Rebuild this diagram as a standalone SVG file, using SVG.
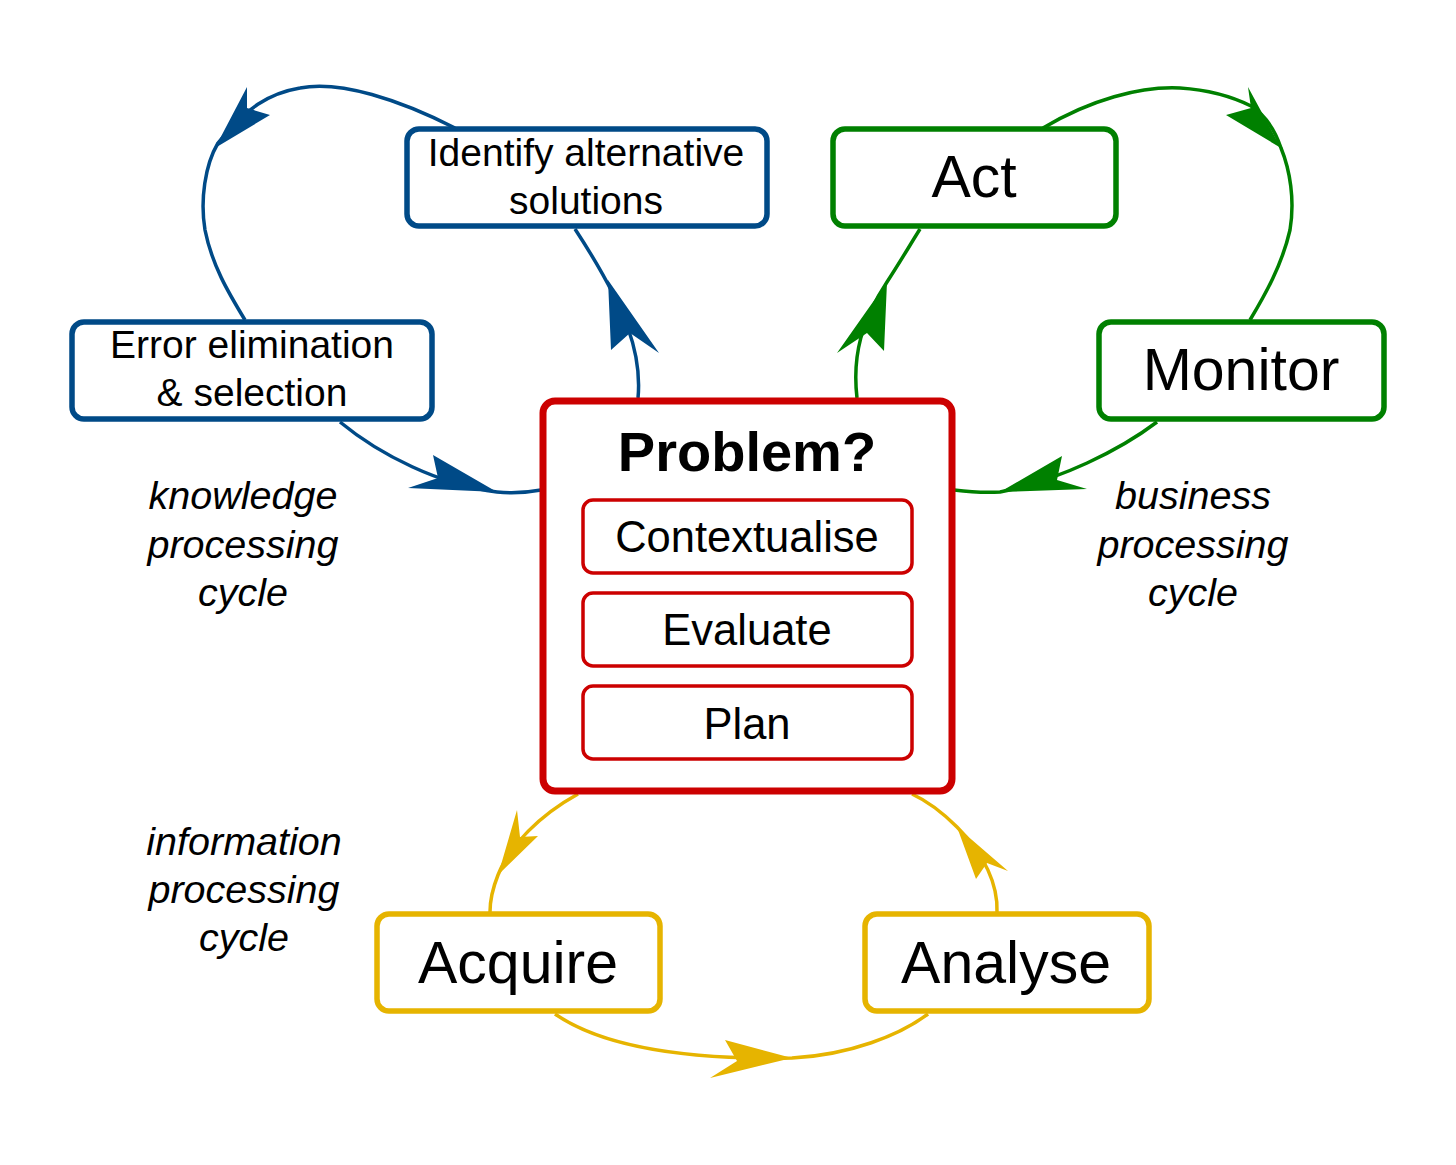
<svg xmlns="http://www.w3.org/2000/svg" width="1456" height="1165" viewBox="0 0 1456 1165">
<style>
text{font-family:"Liberation Sans",Arial,sans-serif;fill:#000;text-anchor:middle}
.box{fill:#fff;stroke-width:5.5}
.blue{stroke:#004a87}
.green{stroke:#008000}
.yellow{stroke:#e6b400}
.red{stroke:#cc0000}
.con{fill:none;stroke-width:3.5}
.bl{fill:#004a87}
.gr{fill:#008000}
.ye{fill:#e6b400}
.lbl{font-style:italic;font-size:39.5px}
.big{font-size:59px}
.mid{font-size:39px}
.sub{font-size:43.5px}
</style>
<rect width="1456" height="1165" fill="#fff"/>
<g id="connectors">
<path class="con blue" d="M638,398 C642,355 628,310 575,229"/>
<polygon class="bl" points="608,280 659,353 630,333 611,350"/>
<path class="con blue" d="M455,128 C400,100 340,80 300,88 C270,93 245,108 218,143 C205,165 200,200 205,230 C212,265 228,292 245,320"/>
<polygon class="bl" points="215,148 247,87 247,108 270,115"/>
<path class="con blue" d="M340,422 C380,455 440,485 497,492 C515,494 530,492 541,490"/>
<polygon class="bl" points="497,492 433,455 438,478 408,488"/>
<path class="con green" d="M857,398 C852,355 862,320 887,282 C900,262 910,245 920,229"/>
<polygon class="gr" points="887,282 884,351 867,333 837,353"/>
<path class="con green" d="M1043,128 C1090,100 1140,86 1180,88 C1210,90 1235,98 1251,106 C1265,115 1275,130 1281,148 C1290,170 1295,200 1290,230 C1282,265 1265,295 1250,320"/>
<polygon class="gr" points="1281,148 1248,87 1251,108 1226,115"/>
<path class="con green" d="M1157,422 C1120,450 1060,480 1000,492 C985,493 970,492 954,490"/>
<polygon class="gr" points="1000,492 1062,456 1057,480 1087,489"/>
<path class="con yellow" d="M578,794 C540,815 510,845 498,875 C492,890 490,900 490,912"/>
<polygon class="ye" points="498,875 517,810 520,837 538,836"/>
<path class="con yellow" d="M555,1014 C600,1045 680,1060 792,1058 C850,1055 900,1035 928,1014"/>
<polygon class="ye" points="792,1058 725,1040 737,1061 710,1078"/>
<path class="con yellow" d="M997,912 C998,885 985,855 957,827 C940,810 925,800 912,794"/>
<polygon class="ye" points="957,827 976,879 987,863 1008,871"/>
</g>
<g id="identify">
<rect class="box blue" x="407" y="129" width="360" height="97" rx="12"/>
<text class="mid" x="586" y="166">Identify alternative</text>
<text class="mid" x="586" y="214">solutions</text>
</g>
<g id="error">
<rect class="box blue" x="72" y="322" width="360" height="97" rx="12"/>
<text class="mid" x="252" y="358">Error elimination</text>
<text class="mid" x="252" y="406">&amp; selection</text>
</g>
<g id="act">
<rect class="box green" x="833" y="129" width="283" height="97" rx="12"/>
<text class="big" x="974" y="197">Act</text>
</g>
<g id="monitor">
<rect class="box green" x="1099" y="322" width="285" height="97" rx="12"/>
<text class="big" x="1241" y="390">Monitor</text>
</g>
<g id="problem">
<rect class="box red" x="543" y="401" width="409" height="390" rx="12" style="stroke-width:7"/>
<text x="747" y="471" style="font-size:56px;font-weight:bold">Problem?</text>
</g>
<g id="contextualise">
<rect class="box red" x="583" y="500" width="329" height="73" rx="10" style="stroke-width:3.5"/>
<text class="sub" x="747" y="552">Contextualise</text>
</g>
<g id="evaluate">
<rect class="box red" x="583" y="593" width="329" height="73" rx="10" style="stroke-width:3.5"/>
<text class="sub" x="747" y="645">Evaluate</text>
</g>
<g id="plan">
<rect class="box red" x="583" y="686" width="329" height="73" rx="10" style="stroke-width:3.5"/>
<text class="sub" x="747" y="739">Plan</text>
</g>
<g id="acquire">
<rect class="box yellow" x="377" y="914" width="283" height="97" rx="12"/>
<text class="big" x="518" y="983">Acquire</text>
</g>
<g id="analyse">
<rect class="box yellow" x="865" y="914" width="284" height="97" rx="12"/>
<text class="big" x="1006" y="983">Analyse</text>
</g>
<g id="labels">
<text class="lbl" x="243" y="509">knowledge</text>
<text class="lbl" x="243" y="558">processing</text>
<text class="lbl" x="243" y="606">cycle</text>
<text class="lbl" x="1193" y="509">business</text>
<text class="lbl" x="1193" y="558">processing</text>
<text class="lbl" x="1193" y="606">cycle</text>
<text class="lbl" x="244" y="855">information</text>
<text class="lbl" x="244" y="903">processing</text>
<text class="lbl" x="244" y="951">cycle</text>
</g>
</svg>
